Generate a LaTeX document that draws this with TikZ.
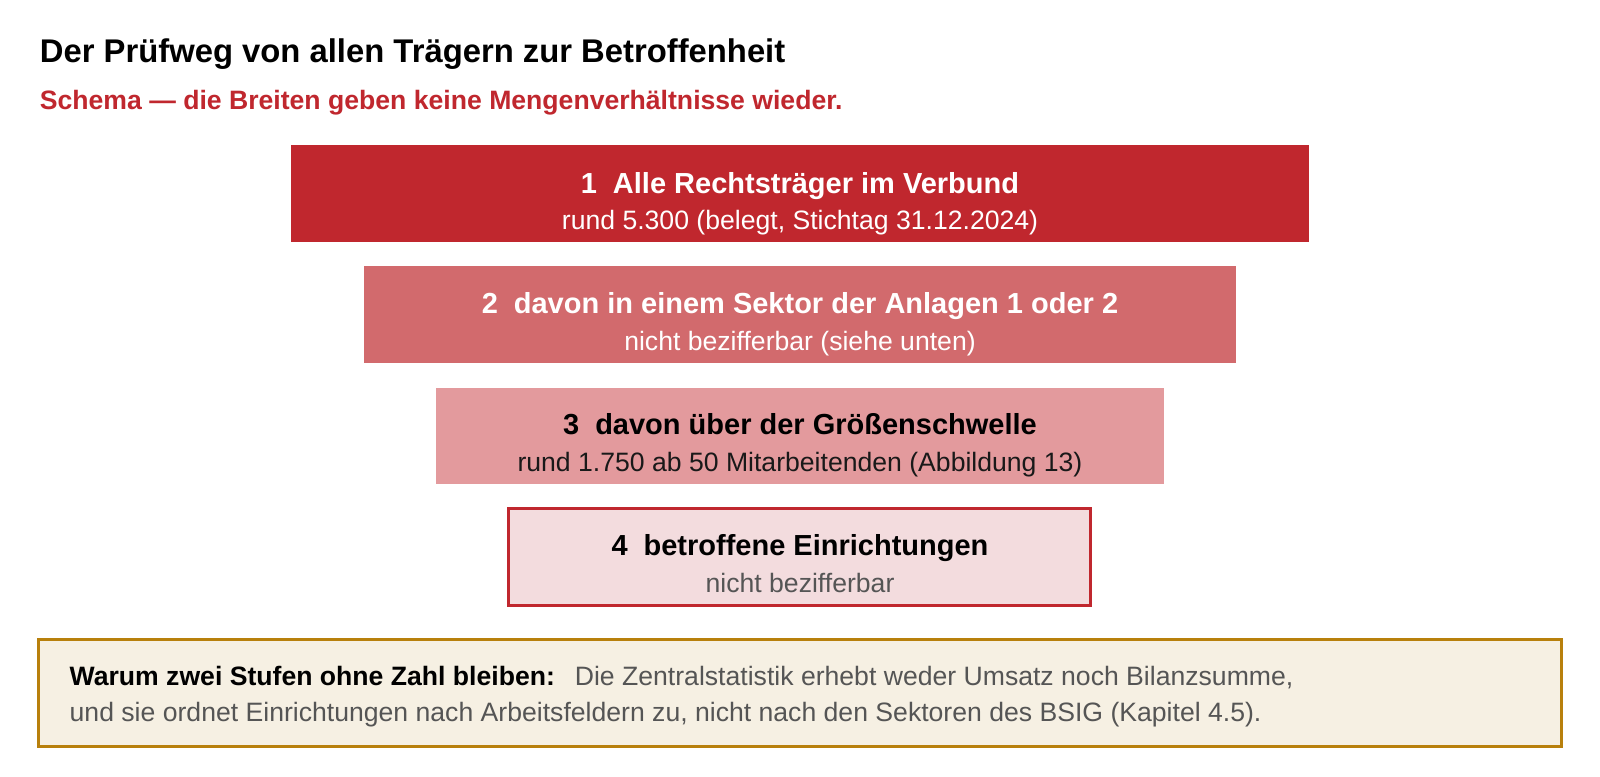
\documentclass[tikz,border=0pt]{standalone}
\usepackage{fontspec}
\setmainfont{Liberation Sans}
\definecolor{cRed}{RGB}{192,39,46}
\definecolor{cMid}{RGB}{210,106,109}
\definecolor{cLight}{RGB}{227,154,157}
\definecolor{cPale}{RGB}{243,220,222}
\definecolor{cNoteFill}{RGB}{246,240,227}
\definecolor{cNoteLine}{RGB}{184,128,12}
\definecolor{cGrey}{RGB}{85,85,85}
\begin{document}
\begin{tikzpicture}[x=0.5pt,y=-0.5pt,
  stage/.style={rectangle, inner sep=0pt, outer sep=0pt},
  ttl/.style={anchor=base, inner sep=0pt, font=\fontsize{14.5}{17}\selectfont\bfseries},
  sub/.style={anchor=base, inner sep=0pt, font=\fontsize{13.3}{16}\selectfont},
  note/.style={anchor=base west, inner sep=0pt, font=\fontsize{13.3}{16}\selectfont, text=cGrey}]
\useasboundingbox[fill=white] (0,0) rectangle (1600,776);
% heading
\node[anchor=base west, inner sep=0pt, font=\fontsize{16.4}{19}\selectfont\bfseries] (head) at (39.5,62) {Der Prüfweg von allen Trägern zur Betroffenheit};
\node[anchor=base west, inner sep=0pt, font=\fontsize{13.3}{16}\selectfont\bfseries, text=cRed] (subhead) at (39.5,109.5) {Schema — die Breiten geben keine Mengenverhältnisse wieder.};
% stages
\node[stage, fill=cRed, minimum width=509.25pt, minimum height=48.65pt] (s1) at (799.75,193.7) {};
\node[ttl, text=white] (s1t) at (800,193.5) {1\hspace{0.55em}Alle Rechtsträger im Verbund};
\node[sub, text=white] (s1s) at (800,229.5) {rund 5.300 (belegt, Stichtag 31.12.2024)};
\node[stage, fill=cMid, minimum width=436.3pt, minimum height=48.5pt] (s2) at (800,314.8) {};
\node[ttl, text=white] (s2t) at (800,313.5) {2\hspace{0.55em}davon in einem Sektor der Anlagen 1 oder 2};
\node[sub, text=white] (s2s) at (800,350) {nicht bezifferbar (siehe unten)};
\node[stage, fill=cLight, minimum width=363.7pt, minimum height=48.3pt] (s3) at (800,436) {};
\node[ttl, text=black] (s3t) at (800,434.8) {3\hspace{0.55em}davon über der Größenschwelle};
\node[sub, text=black!90] (s3s) at (800,471) {rund 1.750 ab 50 Mitarbeitenden (Abbildung 13)};
\node[stage, fill=cPale, draw=cRed, line width=1.5pt, minimum width=291pt, minimum height=48.2pt] (s4) at (799.8,557) {};
\node[ttl, text=black] (s4t) at (800,555.5) {4\hspace{0.55em}betroffene Einrichtungen};
\node[sub, text=cGrey] (s4s) at (800,592) {nicht bezifferbar};
% note
\node[stage, fill=cNoteFill, draw=cNoteLine, line width=1.5pt, minimum width=761.2pt, minimum height=53.2pt] (nb) at (800,693) {};
\node[note] (n1) at (69.3,685) {\textcolor{black}{\bfseries Warum zwei Stufen ohne Zahl bleiben:}\hspace{0.75em}Die Zentralstatistik erhebt weder Umsatz noch Bilanzsumme,};
\node[note] (n2) at (69.3,721) {und sie ordnet Einrichtungen nach Arbeitsfeldern zu, nicht nach den Sektoren des BSIG (Kapitel 4.5).};
\end{tikzpicture}
\end{document}
